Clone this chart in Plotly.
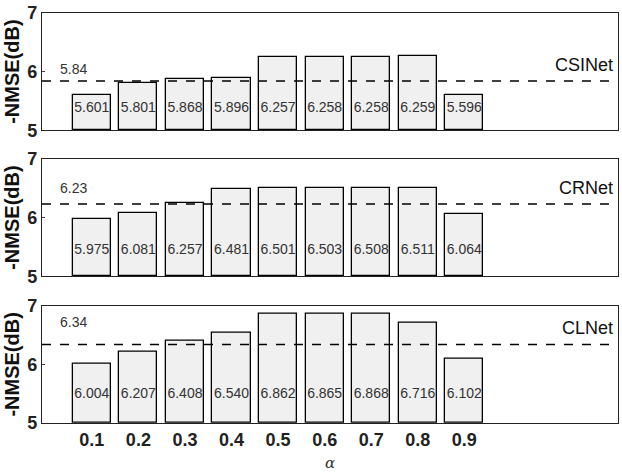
import plotly.graph_objects as go

alphas = ["0.1", "0.2", "0.3", "0.4", "0.5", "0.6", "0.7", "0.8", "0.9"]
csinet = [5.601, 5.801, 5.868, 5.896, 6.257, 6.258, 6.258, 6.259, 5.596]
crnet = [5.975, 6.081, 6.257, 6.481, 6.501, 6.503, 6.508, 6.511, 6.064]
clnet = [6.004, 6.207, 6.408, 6.540, 6.862, 6.865, 6.868, 6.716, 6.102]
baselines = [5.84, 6.23, 6.34]
names = ["CSINet", "CRNet", "CLNet"]
series = [csinet, crnet, clnet]
yticks = [5, 6, 7]

pos = list(range(1, len(alphas) + 1))
domains = [[0.714, 1.0], [0.358, 0.644], [0.0, 0.286]]
label_y = [5.37, 5.44, 5.49]
base_shift = [10, 14, 20]

fig = go.Figure()
for i, vals in enumerate(series):
    xa = "x" if i == 0 else f"x{i+1}"
    ya = "y" if i == 0 else f"y{i+1}"
    fig.add_trace(go.Bar(
        x=pos, y=[v - 5 for v in vals], base=5, width=0.82,
        marker=dict(color="#f0f0f0", line=dict(color="black", width=1.3)),
        xaxis=xa, yaxis=ya, showlegend=False, hoverinfo="skip"))
    fig.add_trace(go.Scatter(
        x=pos, y=[label_y[i]] * len(vals), mode="text",
        text=[f"{v:.3f}" for v in vals],
        textfont=dict(family="Liberation Sans, Arial", size=14, color="#333"),
        xaxis=xa, yaxis=ya, showlegend=False, hoverinfo="skip"))
    fig.add_shape(type="line", xref=f"{xa} domain", yref=ya,
                  x0=0, x1=1, y0=baselines[i], y1=baselines[i],
                  line=dict(color="black", width=1.5, dash="dash"))
    fig.add_annotation(x=0.28, y=baselines[i], xref=xa, yref=ya,
                       text=f"{baselines[i]:.2f}", showarrow=False,
                       xanchor="left", yanchor="bottom", yshift=base_shift[i] - 8,
                       font=dict(family="Liberation Sans, Arial", size=14, color="#333"))
    fig.add_annotation(x=0.995, y=baselines[i], xref=f"{xa} domain", yref=ya,
                       text=names[i], showarrow=False,
                       xanchor="right", yanchor="bottom", yshift=4,
                       font=dict(family="Liberation Sans, Arial", size=18, color="#111"))
    axis_common = dict(showline=True, linecolor="#222", linewidth=1.3, mirror=True,
                       showgrid=False, zeroline=False)
    fig.layout[("xaxis" if i == 0 else f"xaxis{i+1}")] = go.layout.XAxis(
        domain=[0, 1], range=[-0.07, 12.3], anchor=ya,
        tickmode="array", tickvals=pos, ticktext=alphas,
        showticklabels=(i == 2), ticks="",
        tickfont=dict(family="Liberation Sans, Arial", size=18, color="#222", weight="bold"),
        title=dict(text="<i>α</i>", font=dict(family="DejaVu Serif", size=15, color="#333"),
                   standoff=9) if i == 2 else None,
        **axis_common)
    fig.layout[("yaxis" if i == 0 else f"yaxis{i+1}")] = go.layout.YAxis(
        domain=domains[i], range=[5, 7], anchor=xa,
        tickmode="array", tickvals=yticks, ticks="inside", ticklen=3,
        tickfont=dict(family="Liberation Sans, Arial", size=18, color="#222", weight="bold"),
        title=dict(text="-NMSE(dB)", font=dict(family="Liberation Sans, Arial", size=20,
                                               color="#111", weight="bold"), standoff=2),
        **axis_common)

fig.update_layout(width=622, height=472, margin=dict(l=42, r=3, t=7, b=49),
                  plot_bgcolor="white", paper_bgcolor="white", bargap=0)
fig.write_html("out.html", config={"displayModeBar": False},
               post_script="document.body.style.margin='0';document.body.style.overflow='hidden';")
